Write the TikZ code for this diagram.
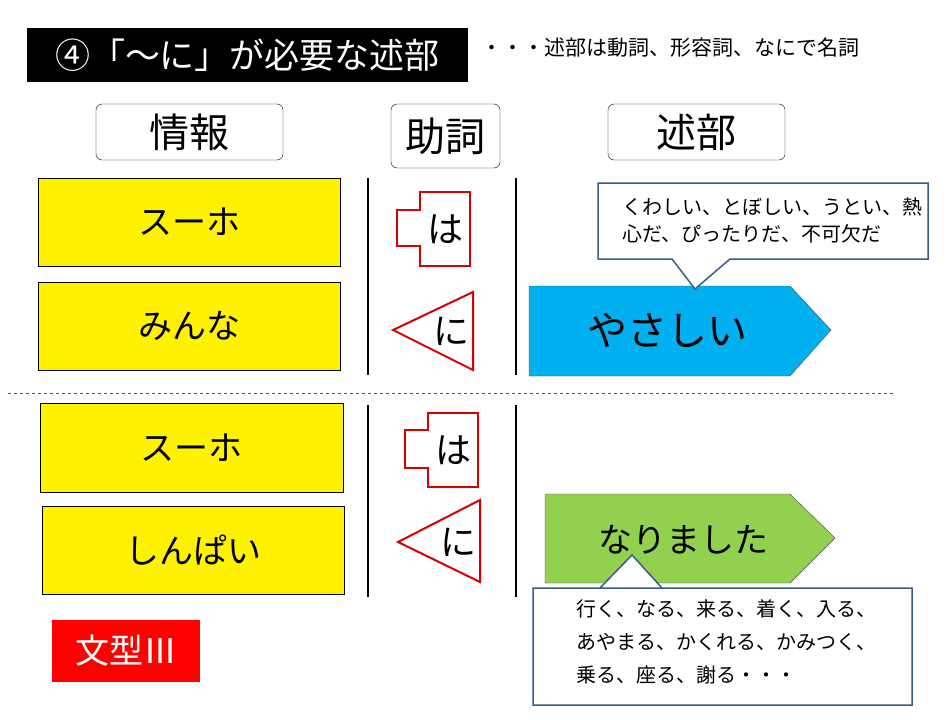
\documentclass[tikz,border=0pt]{standalone}
\usepackage{fontspec}
\setmainfont{Noto Sans CJK JP}
\definecolor{pblue}{HTML}{00B0F0}
\definecolor{pgreen}{HTML}{92D050}
\definecolor{cborder}{HTML}{385D8A}
\begin{document}
\begin{tikzpicture}[x=1pt,y=-1pt,
  hdr/.style={draw=black,rounded corners=6pt,fill=white,font=\fontsize{40}{42}\selectfont},
  ybox/.style={draw=black,fill=yellow,font=\fontsize{34}{36}\selectfont},
  vline/.style={black,line width=1.2pt},
  part/.style={draw=red!85!black,line width=2pt,fill=white},
  call/.style={draw=cborder,line width=1.5pt,fill=white}]
\useasboundingbox (0,0) rectangle (951,720);
\node[fill=black,minimum width=441,minimum height=54,text=white,font=\fontsize{35}{37}\selectfont] (title) at (247.5,55) {④「～に」が必要な述部};
\node[anchor=west,font=\fontsize{21}{23}\selectfont] (sub) at (478,48) {・・・述部は動詞、形容詞、なにで名詞};
\node[hdr,minimum width=187,minimum height=56] (h1) at (189.5,132) {情報};
\node[hdr,minimum width=109,minimum height=64] (h2) at (445.5,136) {助詞};
\node[hdr,minimum width=177,minimum height=56] (h3) at (696.5,132) {述部};
\node[ybox,minimum width=302,minimum height=88] (y1) at (189,222) {スーホ};
\node[ybox,minimum width=302,minimum height=88] (y2) at (189,326) {みんな};
\node[ybox,minimum width=303,minimum height=89] (y3) at (191.5,447.5) {スーホ};
\node[ybox,minimum width=302,minimum height=88] (y4) at (193,550) {しんぱい};
\draw[vline] (368,178) -- (368,375);
\draw[vline] (516,178) -- (516,375);
\draw[vline] (368,405) -- (368,597);
\draw[vline] (516,405) -- (516,597);
\draw[dashed,gray!70!black] (8,393) -- (893,393);
\draw[part] (420,192) -- (470,192) -- (470,266) -- (420,266) -- (420,246) -- (397,246) -- (397,210) -- (420,210) -- cycle;
\node[font=\fontsize{36}{38}\selectfont] (ha1) at (445,229) {は};
\draw[part] (428,413) -- (478,413) -- (478,487) -- (428,487) -- (428,468) -- (405,468) -- (405,430) -- (428,430) -- cycle;
\node[font=\fontsize{36}{38}\selectfont] (ha2) at (453,450) {は};
\draw[part] (393,330) -- (473,292) -- (473,370) -- cycle;
\node[font=\fontsize{36}{38}\selectfont] (ni1) at (451,331) {に};
\draw[part] (398,542) -- (480,500) -- (480,582) -- cycle;
\node[font=\fontsize{36}{38}\selectfont] (ni2) at (458,542) {に};
\draw[fill=pblue,draw=black!70] (529,286) -- (790,286) -- (831,330) -- (790,376) -- (529,376) -- cycle;
\node[font=\fontsize{40}{42}\selectfont] (p1) at (667,330) {やさしい};
\draw[fill=pgreen,draw=black!70] (545,494) -- (790,494) -- (835,538) -- (790,583) -- (545,583) -- cycle;
\node[font=\fontsize{34}{36}\selectfont] (p2) at (683,540) {なりました};
\draw[call] (598,183) -- (928,183) -- (928,259) -- (730,259) -- (695,289) -- (672,259) -- (598,259) -- cycle;
\node[anchor=north west,align=left,font=\fontsize{20}{27}\selectfont,inner sep=0] (c1) at (622,197) {くわしい、とぼしい、うとい、熱\\心だ、ぴったりだ、不可欠だ};
\draw[call] (533,588) -- (912,588) -- (912,705) -- (533,705) -- (533,588) -- (600,588) -- (632,555) -- (662,588);
\node[anchor=north west,align=left,font=\fontsize{20}{33}\selectfont,inner sep=0] (c2) at (576,599) {行く、なる、来る、着く、入る、\\あやまる、かくれる、かみつく、\\乗る、座る、謝る・・・};
\node[fill=red,minimum width=148,minimum height=62,text=white,font=\fontsize{34}{36}\selectfont] (bk) at (126,651) {文型Ⅲ};
\end{tikzpicture}
\end{document}
